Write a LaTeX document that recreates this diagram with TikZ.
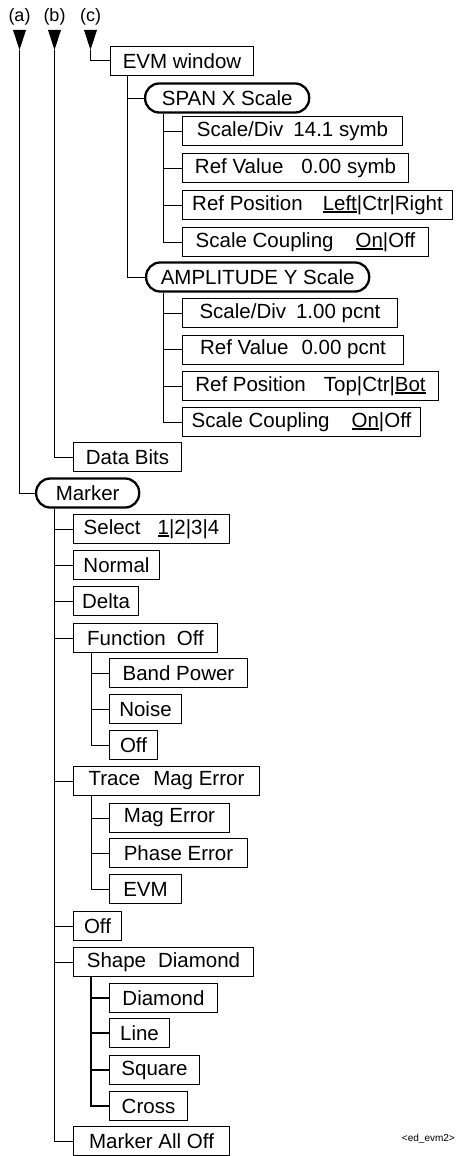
\documentclass[tikz,border=0pt]{standalone}
\usepackage{fontspec}
\setmainfont{Liberation Sans}
\newcommand\ulx[1]{\setbox0\hbox{#1}\rlap{\rule[-2.8pt]{\wd0}{1.6pt}}\box0}
\begin{document}
\begin{tikzpicture}[x=1pt,y=-1pt,
  box/.style={draw, line width=1pt, minimum height=29pt, inner sep=0pt, anchor=west,
              font=\fontsize{20.5}{24}\selectfont},
  rbox/.style={box, line width=2.3pt, rounded corners=14pt},
  conn/.style={line width=1pt},
  lab/.style={font=\fontsize{18}{20}\selectfont, inner sep=0pt}]
\useasboundingbox (0,0) rectangle (455,1156);

% top labels and arrows
\node[lab] (la) at (19.5,17) {(a)};
\node[lab] (lb) at (54.5,17) {(b)};
\node[lab] (lc) at (90.5,17) {(c)};
\coordinate (ta) at (19.5,50);
\coordinate (tb) at (54.5,50);
\coordinate (tc) at (90.5,50);
\foreach \t in {ta,tb,tc}
  \fill (\t) -- ++(-6.5,-20) -- ++(13,0) -- cycle;

% EVM window branch
\node[box, minimum width=143] (evm) at (110,61) {EVM window};
\node[rbox, minimum width=164] (span) at (144,98) {SPAN X Scale};
\node[box, minimum width=220] (s1) at (182,131) {Scale/Div\hspace{10pt}14.1 symb};
\node[box, minimum width=226] (s2) at (182,168) {Ref Value\hspace{18pt}0.00 symb};
\node[box, minimum width=270] (s3) at (182,205) {Ref Position\hspace{20pt}\ulx{Left}|Ctr|Right};
\node[box, minimum width=246] (s4) at (182,242) {Scale Coupling\hspace{22pt}\ulx{On}|Off};
\node[rbox, minimum width=223] (ampl) at (145,277) {AMPLITUDE Y Scale};
\node[box, minimum width=215] (a1) at (182,313) {Scale/Div\hspace{10pt}1.00 pcnt};
\node[box, minimum width=221] (a2) at (182,349.5) {Ref Value\hspace{13pt}0.00 pcnt};
\node[box, minimum width=256] (a3) at (182,386) {Ref Position\hspace{18pt}Top|Ctr|\ulx{Bot}};
\node[box, minimum width=238] (a4) at (182,422) {Scale Coupling\hspace{22pt}\ulx{On}|Off};

% Data Bits
\node[box, minimum width=108] (db) at (73,457) {Data Bits};

% Marker branch
\node[rbox, minimum width=103] (mk) at (35,493) {Marker};
\node[box, minimum width=156] (m1) at (73,529) {Select\hspace{17pt}\ulx{1}|2|3|4};
\node[box, minimum width=86] (m2) at (73,565) {Normal};
\node[box, minimum width=65] (m3) at (73,601) {Delta};
\node[box, minimum width=144] (m4) at (73,638) {Function\hspace{11pt}Off};
\node[box, minimum width=138] (f1) at (109,673) {Band Power};
\node[box, minimum width=72] (f2) at (109,709) {Noise};
\node[box, minimum width=48] (f3) at (109,745) {Off};
\node[box, minimum width=186] (m5) at (73,781) {Trace\hspace{13pt}Mag Error};
\node[box, minimum width=120] (t1) at (109,818) {Mag Error};
\node[box, minimum width=138] (t2) at (109,853) {Phase Error};
\node[box, minimum width=72] (t3) at (109,889) {EVM};
\node[box, minimum width=48] (m6) at (73,926) {Off};
\node[box, minimum width=180] (m7) at (73,962) {Shape\hspace{12pt}Diamond};
\node[box, minimum width=108] (d1) at (109,998) {Diamond};
\node[box, minimum width=60] (d2) at (109,1033) {Line};
\node[box, minimum width=90] (d3) at (109,1070) {Square};
\node[box, minimum width=78] (d4) at (109,1106) {Cross};
\node[box, minimum width=156] (m8) at (73,1141) {Marker All Off};

\node[anchor=east, inner sep=0pt, font=\fontsize{10}{12}\selectfont] (tag) at (455,1139) {<ed\_evm2>};

% connectors
\draw[conn] (ta) |- (mk.west);
\draw[conn] (tb) |- (db.west);
\draw[conn] (tc) |- (evm.west);
\foreach \n in {span,ampl}
  \draw[conn] ([xshift=17pt]evm.south west) |- (\n.west);
\foreach \n in {s1,s2,s3,s4}
  \draw[conn] ([xshift=19pt]span.south west) |- (\n.west);
\foreach \n in {a1,a2,a3,a4}
  \draw[conn] ([xshift=18pt]ampl.south west) |- (\n.west);
\foreach \n in {m1,m2,m3,m4,m5,m6,m7,m8}
  \draw[conn] ([xshift=19.5pt]mk.south west) |- (\n.west);
\foreach \n in {f1,f2,f3}
  \draw[conn] ([xshift=18pt]m4.south west) |- (\n.west);
\foreach \n in {t1,t2,t3}
  \draw[conn] ([xshift=18pt]m5.south west) |- (\n.west);
\foreach \n in {d1,d2,d3,d4}
  \draw[conn, line width=1.4pt] ([xshift=18pt]m7.south west) |- (\n.west);
\end{tikzpicture}
\end{document}
